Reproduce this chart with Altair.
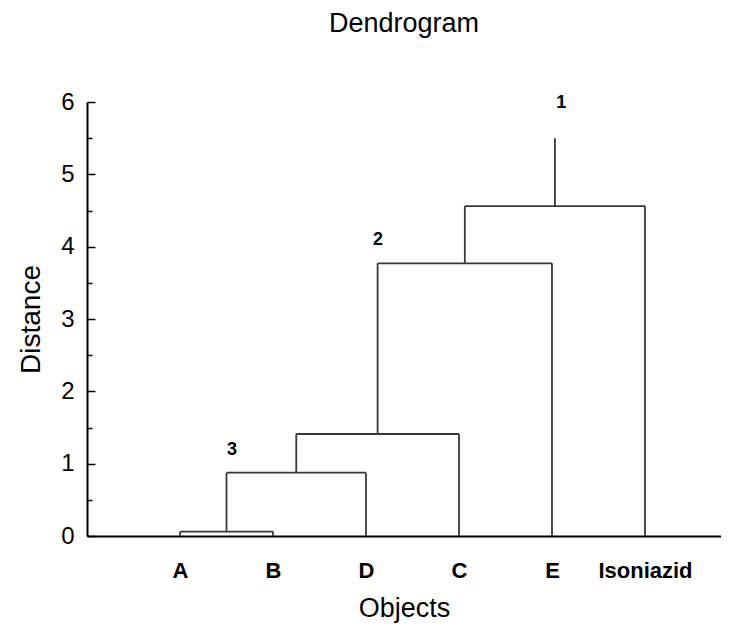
import json
import altair as alt
import pandas as pd

# ---- data ----
leaves = ["A", "B", "D", "C", "E", "Isoniazid"]
leaf_pos = [1, 2, 3, 4, 5, 6]

merge_left = ["A", "A+B", "A+B+D", "A+B+D+C", "A+B+D+C+E"]
merge_right = ["B", "D", "C", "E", "Isoniazid"]
merge_height = [0.06, 0.875, 1.41, 3.77, 4.56]
root_top = 5.50

ann_text = ["1", "2", "3"]
ann_x = [5.10, 3.13, 1.56]
ann_y = [5.99, 4.09, 1.19]

y_major = [0, 1, 2, 3, 4, 5, 6]
y_minor = [0.5, 1.5, 2.5, 3.5, 4.5, 5.5]

# ---- build dendrogram segments ----
pos = {n: p for n, p in zip(leaves, leaf_pos)}
hgt = {n: 0.0 for n in leaves}
rows = []
for l, r, h in zip(merge_left, merge_right, merge_height):
    xl, xr = pos[l], pos[r]
    rows.append({"x": xl, "x2": xl, "y": hgt[l], "y2": h})
    rows.append({"x": xr, "x2": xr, "y": hgt[r], "y2": h})
    rows.append({"x": xl, "x2": xr, "y": h, "y2": h})
    name = l + "+" + r
    pos[name] = (xl + xr) / 2
    hgt[name] = h
root = merge_left[-1] + "+" + merge_right[-1]
rows.append({"x": pos[root], "x2": pos[root], "y": hgt[root], "y2": root_top})
seg_df = pd.DataFrame(rows)
ann_df = pd.DataFrame({"t": ann_text, "x": ann_x, "y": ann_y})

W, H = 634, 434
xscale = alt.Scale(domain=[0, W / 93], nice=False, zero=False)
yscale = alt.Scale(domain=[0, 6], nice=False)

label_expr = json.dumps(leaves) + "[datum.value - 1]"

segs = alt.Chart(seg_df).mark_rule(color="#383838", strokeWidth=1.8).encode(
    x=alt.X("x:Q", scale=xscale, axis=alt.Axis(
        orient="bottom", values=leaf_pos, labelExpr=label_expr, ticks=False,
        grid=False, domain=True, domainColor="black", domainWidth=2,
        labelFontSize=22, labelFontWeight="bold", labelColor="black",
        labelPadding=24, title="Objects", titleFontSize=27,
        titleFontWeight="normal", titleColor="black", titlePadding=14)),
    x2="x2:Q",
    y=alt.Y("y:Q", scale=yscale, axis=alt.Axis(
        orient="left", values=y_major, ticks=False, grid=False, domain=True,
        domainColor="black", domainWidth=2, labelFontSize=24,
        labelColor="black", labelPadding=13, title="Distance",
        titleFontSize=28, titleFontWeight="normal", titleColor="black",
        titlePadding=15)),
    y2="y2:Q",
)

major_ticks = alt.Chart(seg_df).mark_rule(opacity=0).encode(
    x=alt.X("x:Q", scale=xscale, axis=None),
    y=alt.Y("y:Q", scale=yscale, axis=alt.Axis(
        orient="right", offset=-W, values=y_major, labels=False, domain=False,
        grid=False, ticks=True, tickSize=8, tickColor="black", tickWidth=1.5,
        title="")),
)

minor_ticks = alt.Chart(seg_df).mark_rule(opacity=0).encode(
    x=alt.X("x:Q", scale=xscale, axis=None),
    y=alt.Y("y:Q", scale=yscale, axis=alt.Axis(
        orient="right", offset=-W, values=y_minor, labels=False, domain=False,
        grid=False, ticks=True, tickSize=5, tickColor="black", tickWidth=1.5,
        title="")),
)

ann = alt.Chart(ann_df).mark_text(
    fontSize=18, fontWeight="bold", color="black", baseline="middle",
    align="center").encode(
    x=alt.X("x:Q", scale=xscale, axis=None),
    y=alt.Y("y:Q", scale=yscale, axis=None),
    text="t:N",
)

chart = alt.layer(segs, major_ticks, minor_ticks, ann).resolve_axis(
    x="independent", y="independent"
).properties(
    width=W,
    height=H,
    autosize=alt.AutoSizeParams(type="none"),
    padding={"left": 79, "top": 94, "right": 0, "bottom": 87},
    title=alt.TitleParams("Dendrogram", fontSize=27, fontWeight="normal",
                          color="black", offset=52, anchor="middle"),
).configure(font="Liberation Sans").configure_view(stroke=None)

chart.save("out.html", embed_options={"renderer": "svg", "actions": False})
